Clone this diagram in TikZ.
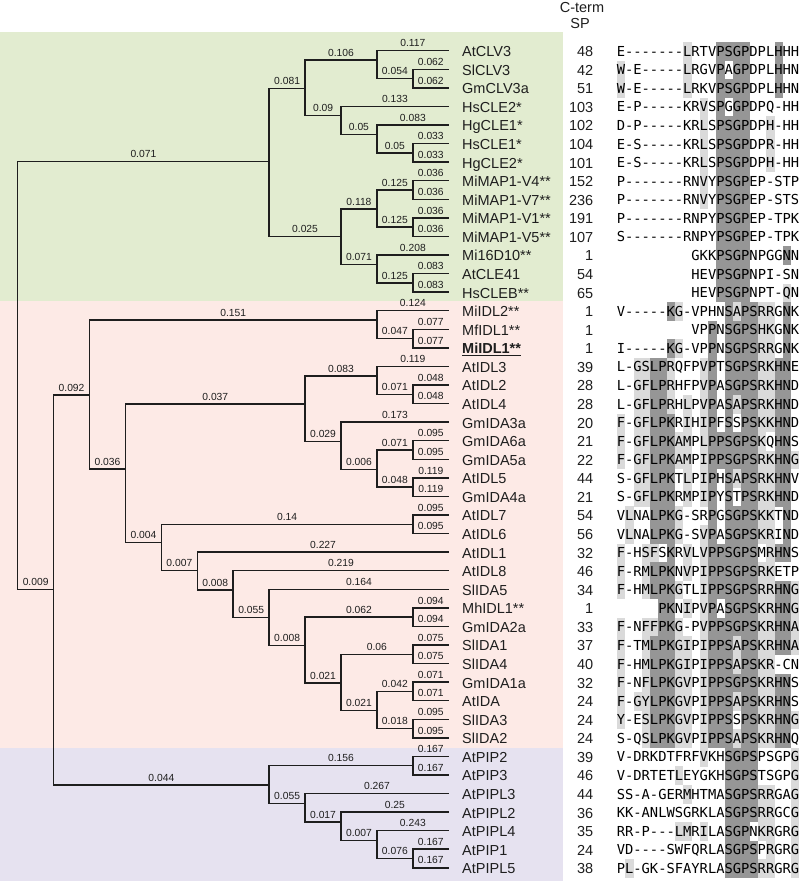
\documentclass[tikz,border=0pt]{standalone}
\usepackage{fontspec}
\setmainfont{Liberation Sans}
\newfontfamily\seqfont{DejaVu Sans Mono}[Ligatures=TeXOff]
\definecolor{bgG}{RGB}{226,236,208}
\definecolor{bgP}{RGB}{253,234,230}
\definecolor{bgV}{RGB}{230,226,240}
\definecolor{dk}{RGB}{150,150,150}
\definecolor{lt}{RGB}{218,218,218}
\definecolor{ink}{RGB}{30,30,30}
\newcommand\blabfont{\fontsize{10.3}{12}\selectfont}
\newcommand\labfont{\fontsize{14.5}{16}\selectfont}
\makeatletter
\newcount\shcol
\newcount\shlen
% shading table: column / residues / colour
\newcommand\defsh[3]{\def\sh@c{#1}\def\sh@k{#3}\sh@defloop#2\relax}
\def\sh@defloop#1{\ifx#1\relax\else
  \expandafter\edef\csname shx-\sh@c-#1\endcsname{\sh@k}%
  \expandafter\sh@defloop\fi}
\def\shcount#1{\ifx#1\relax\else\global\advance\shlen by 1 \expandafter\shcount\fi}
\def\shloop#1{\ifx#1\relax\else
  \global\advance\shcol by 1
  \ifcsname shx-\the\shcol-#1\endcsname
    \fill[fill=\csname shx-\the\shcol-#1\endcsname] ({617+8.29*(\the\shcol-1)},{\yy-8.5}) rectangle +(8.4,18.7);
  \fi
  \expandafter\shloop\fi}
\makeatother
\defsh{1}{FYW}{lt}
\defsh{2}{L}{lt}
\defsh{3}{G}{lt}
\defsh{4}{FYMS}{lt}
\defsh{5}{L}{dk}\defsh{5}{F}{lt}
\defsh{6}{P}{dk}
\defsh{7}{K}{dk}\defsh{7}{R}{lt}
\defsh{8}{GAL}{lt}
\defsh{9}{ILVM}{lt}
\defsh{11}{ILVM}{lt}
\defsh{12}{P}{dk}
\defsh{13}{P}{dk}
\defsh{14}{S}{dk}
\defsh{15}{G}{dk}\defsh{15}{A}{lt}
\defsh{16}{P}{dk}
\defsh{17}{S}{dk}
\defsh{18}{RKH}{lt}
\defsh{19}{RKH}{lt}
\defsh{20}{H}{dk}
\defsh{21}{N}{dk}\defsh{21}{Q}{lt}
\defsh{22}{GA}{lt}
\tikzset{
  br/.style={draw=ink, line width=1.45pt},
  blab/.style={font=\blabfont, text=ink, anchor=base, inner sep=0pt, yshift=3.8pt},
  lab/.style={font=\labfont, text=ink, anchor=base west, inner sep=0pt},
  spn/.style={font=\labfont, text=ink, anchor=base east, inner sep=0pt},
  seq/.style={font=\seqfont\fontsize{13.77}{15}\selectfont, text=black, anchor=base east, inner sep=0pt},
  hdr/.style={font=\labfont, text=ink, inner sep=0pt}
}
\begin{document}
\begin{tikzpicture}[x=1pt,y=-1pt]
\useasboundingbox (0,0) rectangle (800,881);
\fill[white] (0,0) rectangle (800,881);
% clade backgrounds
\fill[bgG] (0,32) rectangle (563,301);
\fill[bgP] (0,301) rectangle (563,747.5);
\fill[bgV] (0,747.5) rectangle (563,881);
% header
\node[hdr] (h1) at (582,7.5) {C-term};
\node[hdr] (h2) at (580,24) {SP};
% leaves, labels, SP numbers, shaded sequences
\foreach \i/\nm/\sp/\sq in {
 1/AtCLV3/48/E-------LRTVPSGPDPLHHH,
 2/SlCLV3/42/W-E-----LRGVPAGPDPLHHN,
 3/GmCLV3a/51/W-E-----LRKVPSGPDPLHHN,
 4/HsCLE2*/103/E-P-----KRVSPGGPDPQ-HH,
 5/HgCLE1*/102/D-P-----KRLSPSGPDPH-HH,
 6/HsCLE1*/104/E-S-----KRLSPSGPDPR-HH,
 7/HgCLE2*/101/E-S-----KRLSPSGPDPH-HH,
 8/MiMAP1-V4**/152/P-------RNVYPSGPEP-STP,
 9/MiMAP1-V7**/236/P-------RNVYPSGPEP-STS,
 10/MiMAP1-V1**/191/P-------RNPYPSGPEP-TPK,
 11/MiMAP1-V5**/107/S-------RNPYPSGPEP-TPK,
 12/Mi16D10**/1/GKKPSGPNPGGNN,
 13/AtCLE41/54/HEVPSGPNPI-SN,
 14/HsCLEB**/65/HEVPSGPNPT-QN,
 15/MiIDL2**/1/V-----KG-VPHNSAPSRRGNK,
 16/MfIDL1**/1/VPPNSGPSHKGNK,
 17/{\underline{\textbf{MiIDL1**}}}/1/I-----KG-VPPNSGPSRRGNK,
 18/AtIDL3/39/L-GSLPRQFPVPTSGPSRKHNE,
 19/AtIDL2/28/L-GFLPRHFPVPASGPSRKHND,
 20/AtIDL4/28/L-GFLPRHLPVPASAPSRKHND,
 21/GmIDA3a/20/F-GFLPKRIHIPFSSPSKKHND,
 22/GmIDA6a/21/F-GFLPKAMPLPPSGPSKQHNS,
 23/GmIDA5a/22/F-GFLPKAMPIPPSGPSRKHNG,
 24/AtIDL5/44/S-GFLPKTLPIPHSAPSRKHNV,
 25/GmIDA4a/21/S-GFLPKRMPIPYSTPSRKHND,
 26/AtIDL7/54/VLNALPKG-SRPGSGPSKKTND,
 27/AtIDL6/56/VLNALPKG-SVPASGPSKRIND,
 28/AtIDL1/32/F-HSFSKRVLVPPSGPSMRHNS,
 29/AtIDL8/46/F-RMLPKNVPIPPSGPSRKETP,
 30/SlIDA5/34/F-HMLPKGTLIPPSGPSRRHNG,
 31/MhIDL1**/1/PKNIPVPASGPSKRHNG,
 32/GmIDA2a/33/F-NFFPKG-PVPPSGPSKRHNA,
 33/SlIDA1/37/F-TMLPKGIPIPPSAPSKRHNA,
 34/SlIDA4/40/F-HMLPKGIPIPPSAPSKR-CN,
 35/GmIDA1a/32/F-NFLPKGVPIPPSGPSKRHNS,
 36/AtIDA/24/F-GYLPKGVPIPPSAPSKRHNS,
 37/SlIDA3/24/Y-ESLPKGVPIPPSSPSKRHNG,
 38/SlIDA2/24/S-QSLPKGVPIPPSAPSKRHNQ,
 39/AtPIP2/39/V-DRKDTFRFVKHSGPSPSGPG,
 40/AtPIP3/46/V-DRTETLEYGKHSGPSTSGPG,
 41/AtPIPL3/44/SS-A-GERMHTMASGPSRRGAG,
 42/AtPIPL2/36/KK-ANLWSGRKLASGPSRRGCG,
 43/AtPIPL4/35/RR-P---LMRILASGPNKRGRG,
 44/AtPIP1/24/VD----SWFQRLASGPSPRGRG,
 45/AtPIPL5/38/PL-GK-SFAYRLASGPSRRGRG} {
  \pgfmathsetmacro\yy{50.7+18.57*(\i-1)}
  \global\shlen=0
  \expandafter\shcount\sq\relax
  \global\shcol=\numexpr 22-\shlen\relax
  \expandafter\shloop\sq\relax
  \coordinate (t\i) at (448.8,\yy);
  \node[lab] (n\i) at (462,{\yy+6}) {\nm};
  \node[spn] (p\i) at (593.5,{\yy+6}) {\sp};
  \node[seq] (s\i) at (799.4,{\yy+5.5}) {\sq};
}
% internal nodes
\coordinate (R) at (17.7,375);
\coordinate (G) at (269.1,161.7);
\coordinate (A) at (305.1,88.3);
\coordinate (B) at (376.9,60.0);
\coordinate (C) at (412.8,78.56);
\coordinate (D) at (341.0,115.7);
\coordinate (E) at (376.9,134.3);
\coordinate (F) at (412.8,152.84);
\coordinate (H) at (341.0,236.7);
\coordinate (I) at (376.9,209);
\coordinate (J) at (412.8,189.98);
\coordinate (K) at (412.8,227.12);
\coordinate (L) at (376.9,264.5);
\coordinate (M) at (412.8,282.83);
\coordinate (N) at (53.6,589.3);
\coordinate (O) at (89.5,395);
\coordinate (P) at (376.9,320.2);
\coordinate (Q) at (412.8,338.54);
\coordinate (S) at (125.5,469);
\coordinate (T) at (305.1,404);
\coordinate (U) at (376.9,375.8);
\coordinate (W) at (412.8,394.25);
\coordinate (V) at (341.0,441.3);
\coordinate (X) at (376.9,469.3);
\coordinate (Y) at (412.8,449.96);
\coordinate (Z) at (412.8,487.10);
\coordinate (AA) at (161.4,542.5);
\coordinate (AB) at (412.8,524.24);
\coordinate (AC) at (197.3,570.7);
\coordinate (AD) at (233.2,590);
\coordinate (AE) at (269.1,617.7);
\coordinate (AF) at (305.1,645.7);
\coordinate (AG) at (412.8,617.09);
\coordinate (AH) at (341.0,683);
\coordinate (AI) at (412.8,654.23);
\coordinate (AJ) at (376.9,710.7);
\coordinate (AK) at (412.8,691.37);
\coordinate (AL) at (412.8,728.51);
\coordinate (PA) at (269.1,785);
\coordinate (PB) at (412.8,765.65);
\coordinate (PC) at (305.1,803.3);
\coordinate (PD) at (341.0,822);
\coordinate (PE) at (376.9,840.7);
\coordinate (PF) at (412.8,858.5);
% branches
\foreach \p/\q/\v in {
 R/G/0.071, R/N/0.009,
 G/A/0.081, G/H/0.025,
 A/B/0.106, A/D/0.09,
 B/t1/0.117, B/C/0.054, C/t2/0.062, C/t3/0.062,
 D/t4/0.133, D/E/0.05,
 E/t5/0.083, E/F/0.05, F/t6/0.033, F/t7/0.033,
 H/I/0.118, H/L/0.071,
 I/J/0.125, I/K/0.125, J/t8/0.036, J/t9/0.036, K/t10/0.036, K/t11/0.036,
 L/t12/0.208, L/M/0.125, M/t13/0.083, M/t14/0.083,
 N/O/0.092, N/PA/0.044,
 O/P/0.151, O/S/0.036,
 P/t15/0.124, P/Q/0.047, Q/t16/0.077, Q/t17/0.077,
 S/T/0.037, S/AA/0.004,
 T/U/0.083, T/V/0.029,
 U/t18/0.119, U/W/0.071, W/t19/0.048, W/t20/0.048,
 V/t21/0.173, V/X/0.006,
 X/Y/0.071, X/Z/0.048,
 Y/t22/0.095, Y/t23/0.095, Z/t24/0.119, Z/t25/0.119,
 AA/AB/0.14, AA/AC/0.007,
 AB/t26/0.095, AB/t27/0.095,
 AC/t28/0.227, AC/AD/0.008,
 AD/t29/0.219, AD/AE/0.055,
 AE/t30/0.164, AE/AF/0.008,
 AF/AG/0.062, AF/AH/0.021,
 AG/t31/0.094, AG/t32/0.094,
 AH/AI/0.06, AH/AJ/0.021,
 AI/t33/0.075, AI/t34/0.075,
 AJ/AK/0.042, AJ/AL/0.018,
 AK/t35/0.071, AK/t36/0.071, AL/t37/0.095, AL/t38/0.095,
 PA/PB/0.156, PA/PC/0.055,
 PB/t39/0.167, PB/t40/0.167,
 PC/t41/0.267, PC/PD/0.017,
 PD/t42/0.25, PD/PE/0.007,
 PE/t43/0.243, PE/PF/0.076,
 PF/t44/0.167, PF/t45/0.167} {
  \draw[br] (\p) |- (\q) node[blab,pos=0.75] {\v};
}
\end{tikzpicture}
\end{document}
